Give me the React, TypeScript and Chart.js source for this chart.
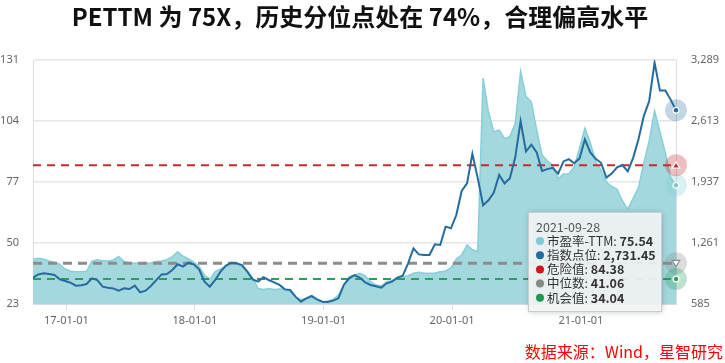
import React, { useEffect, useRef } from "react";
import { Chart, registerables } from "chart.js";
Chart.register(...registerables);

const titleText = "PETTM 为 75X，历史分位点处在 74%，合理偏高水平";
const sourceText = "数据来源：Wind，星智研究";
const startDate = "2016-09-28";
const endDate = "2021-09-28";
const xTickLabels = ["17-01-01", "18-01-01", "19-01-01", "20-01-01", "21-01-01"];
const leftTicks = [23, 50, 77, 104, 131];
const rightTicks = [585, 1261, 1937, 2613, 3289];
const seriesNames = ["市盈率-TTM", "指数点位", "危险值", "中位数", "机会值"];

const peValues = [
  42.8, 43.2, 42.8, 42.0, 41.5, 40.5, 38.5, 37.5, 37.3, 37.3,
  37.5, 42.0, 42.6, 42.2, 42.0, 42.5, 44.0, 41.8, 41.3, 41.0,
  41.2, 41.0, 41.2, 41.8, 42.0, 42.6, 44.0, 46.0, 44.2, 43.0,
  41.5, 39.6, 35.8, 33.9, 37.3, 38.5, 39.5, 41.0, 40.7, 39.5,
  37.3, 34.4, 29.9, 29.4, 29.9, 29.4, 29.6, 29.6, 28.4, 25.9,
  25.0, 25.4, 25.9, 25.0, 23.9, 24.3, 25.0, 26.9, 31.4, 35.1,
  35.8, 36.6, 35.5, 32.9, 31.4, 31.0, 32.9, 33.4, 34.6, 35.1,
  35.5, 36.6, 37.0, 36.6, 36.6, 36.6, 37.3, 37.6, 39.1, 42.9,
  44.7, 49.1, 47.0, 46.2, 123.0, 108.0, 99.3, 100.0, 96.3, 97.1,
  103.0, 126.0, 115.0, 112.5, 100.0, 89.0, 86.3, 84.5, 78.5, 80.5,
  80.5, 83.8, 92.0, 100.8, 94.5, 86.0, 82.3, 77.0, 75.0, 73.8,
  68.7, 65.0, 69.8, 74.5, 85.6, 95.2, 108.5, 99.3, 90.0, 79.0,
  75.54,
];

const indexValues = [
  877, 913, 925, 917, 906, 858, 840, 821, 788, 792,
  806, 869, 850, 777, 766, 758, 733, 758, 751, 788,
  714, 733, 784, 850, 913, 917, 962, 1025, 999, 1043,
  1025, 970, 832, 777, 851, 943, 1010, 1043, 1036, 1017,
  943, 858, 832, 881, 851, 825, 796, 747, 740, 666,
  611, 648, 674, 637, 611, 607, 622, 648, 796, 869,
  906, 875, 825, 796, 781, 766, 814, 832, 877, 899,
  1036, 1202, 1135, 1128, 1128, 1247, 1239, 1442, 1424, 1571,
  1837, 1922, 2250, 1980, 1680, 1735, 1820, 2015, 1922, 1980,
  2210, 2610, 2275, 2350, 2265, 2060, 2080, 2095, 2030, 2165,
  2190, 2145, 2199, 2410, 2265, 2195, 2150, 1985, 2030, 2100,
  2125, 2055, 2205, 2410, 2670, 2835, 3260, 2950, 2950, 2850,
  2731.45,
];

const dangerValue = 84.38;
const medianValue = 41.06;
const chanceValue = 34.04;

const colors = {
  pe: "#86cfd8",
  peFill: "#a3d8df",
  index: "#256c9e",
  danger: "#c62b2f",
  median: "#8c8c8c",
  chance: "#2a9f5c",
};

const CJK = '"Noto Sans CJK SC", "Noto Sans", sans-serif';

export default function App() {
  const ref = useRef<HTMLCanvasElement | null>(null);

  useEffect(() => {
    document.body.style.margin = "0";
    const t0 = Date.parse(startDate);
    const t1 = Date.parse(endDate);
    const n = peValues.length;
    const xs = peValues.map((_, i) => t0 + ((t1 - t0) * i) / (n - 1));
    const tickValues = xTickLabels.map((l) => Date.parse("20" + l));
    const lastPe = peValues[n - 1];
    const lastIdx = indexValues[indexValues.length - 1];

    const textPlugin = {
      id: "texts",
      afterDraw(chart: any) {
        const ctx = chart.ctx;
        ctx.save();
        ctx.fillStyle = "#111";
        ctx.font = `bold 24px ${CJK}`;
        ctx.textAlign = "center";
        ctx.textBaseline = "middle";
        ctx.fillText(titleText, 360, 17);
        ctx.fillStyle = "#ff0000";
        ctx.font = `16px ${CJK}`;
        ctx.textAlign = "right";
        ctx.fillText(sourceText, 723, 352);
        ctx.restore();
      },
    };

    const markerPlugin = {
      id: "markers",
      afterDatasetsDraw(chart: any) {
        const ctx = chart.ctx;
        const px = chart.scales.x.getPixelForValue(t1);
        const ly = chart.scales.y;
        const ry = chart.scales.y1;
        const halo = (y: number, c: string) => {
          ctx.beginPath();
          ctx.arc(px, y, 11, 0, Math.PI * 2);
          ctx.fillStyle = c;
          ctx.fill();
        };
        const dot = (y: number, c: string) => {
          ctx.beginPath();
          ctx.arc(px, y, 3.5, 0, Math.PI * 2);
          ctx.fillStyle = "#fff";
          ctx.fill();
          ctx.beginPath();
          ctx.arc(px, y, 2.2, 0, Math.PI * 2);
          ctx.fillStyle = c;
          ctx.fill();
        };
        const tri = (y: number, c: string, down: boolean, fillC: string) => {
          const s = down ? -1 : 1;
          ctx.beginPath();
          ctx.moveTo(px, y - 3.5 * s);
          ctx.lineTo(px + 3.8, y + 2.8 * s);
          ctx.lineTo(px - 3.8, y + 2.8 * s);
          ctx.closePath();
          ctx.fillStyle = fillC;
          ctx.fill();
          ctx.lineWidth = 1.2;
          ctx.strokeStyle = c;
          ctx.stroke();
        };
        ctx.save();
        let y = ry.getPixelForValue(lastIdx);
        halo(y, "rgba(37,108,158,0.28)");
        dot(y, colors.index);
        y = ly.getPixelForValue(lastPe);
        halo(y, "rgba(134,207,216,0.3)");
        dot(y, "#7cc8d2");
        y = ly.getPixelForValue(dangerValue);
        halo(y, "rgba(198,43,47,0.3)");
        tri(y, "#fff", false, colors.danger);
        y = ly.getPixelForValue(medianValue);
        halo(y, "rgba(140,140,140,0.3)");
        tri(y, colors.median, true, "#fff");
        y = ly.getPixelForValue(chanceValue);
        halo(y, "rgba(42,159,92,0.3)");
        dot(y, colors.chance);
        ctx.restore();
      },
    };

    const tooltipPlugin = {
      id: "staticTip",
      afterDraw(chart: any) {
        const ctx = chart.ctx;
        const area = chart.chartArea;
        const bx = area.right - 148;
        const by = 212;
        const bw = 133;
        const bh = 99;
        ctx.save();
        ctx.shadowColor = "rgba(0,0,0,0.25)";
        ctx.shadowBlur = 6;
        ctx.shadowOffsetX = 1;
        ctx.shadowOffsetY = 1;
        ctx.fillStyle = "rgba(246,248,248,0.9)";
        ctx.fillRect(bx, by, bw, bh);
        ctx.shadowColor = "transparent";
        ctx.strokeStyle = "#c8cccc";
        ctx.lineWidth = 1;
        ctx.strokeRect(bx + 0.5, by + 0.5, bw, bh);
        ctx.textBaseline = "middle";
        ctx.textAlign = "left";
        ctx.font = `12.5px ${CJK}`;
        ctx.fillStyle = "#555";
        ctx.fillText(endDate, bx + 8, by + 15);
        const rows = [
          [seriesNames[0], lastPe.toFixed(2), "#7fcbd6"],
          [seriesNames[1], lastIdx.toLocaleString("en-US", { minimumFractionDigits: 2, maximumFractionDigits: 2 }), colors.index],
          [seriesNames[2], dangerValue.toFixed(2), "#d0161b"],
          [seriesNames[3], medianValue.toFixed(2), "#888"],
          [seriesNames[4], chanceValue.toFixed(2), "#1f9a55"],
        ];
        rows.forEach((r, k) => {
          const ry = by + 29 + k * 14.2;
          ctx.beginPath();
          ctx.arc(bx + 12, ry, 4, 0, Math.PI * 2);
          ctx.fillStyle = r[2];
          ctx.fill();
          ctx.fillStyle = "#333";
          ctx.font = `12.5px ${CJK}`;
          const lab = r[0] + ": ";
          ctx.fillText(lab, bx + 19, ry);
          const w = ctx.measureText(lab).width;
          ctx.font = `bold 12.5px ${CJK}`;
          ctx.fillText(r[1], bx + 19 + w, ry);
        });
        ctx.restore();
      },
    };

    const line = (v: number) => [
      { x: t0, y: v },
      { x: t1, y: v },
    ];

    const chart = new Chart(ref.current as HTMLCanvasElement, {
      type: "line",
      data: {
        datasets: [
          {
            label: seriesNames[1],
            data: indexValues.map((v, i) => ({ x: xs[i], y: v })),
            yAxisID: "y1",
            borderColor: colors.index,
            borderWidth: 2,
            pointRadius: 0,
            fill: false,
            order: 0,
          },
          {
            label: seriesNames[2],
            data: line(dangerValue),
            yAxisID: "y",
            borderColor: colors.danger,
            borderWidth: 2,
            borderDash: [8, 6],
            pointRadius: 0,
            fill: false,
            order: 1,
          },
          {
            label: seriesNames[3],
            data: line(medianValue),
            yAxisID: "y",
            borderColor: colors.median,
            borderWidth: 3,
            borderDash: [9, 6],
            pointRadius: 0,
            fill: false,
            order: 2,
          },
          {
            label: seriesNames[4],
            data: line(chanceValue),
            yAxisID: "y",
            borderColor: colors.chance,
            borderWidth: 2,
            borderDash: [8, 6],
            pointRadius: 0,
            fill: false,
            order: 3,
          },
          {
            label: seriesNames[0],
            data: peValues.map((v, i) => ({ x: xs[i], y: v })),
            yAxisID: "y",
            borderColor: colors.pe,
            backgroundColor: colors.peFill,
            borderWidth: 1.5,
            pointRadius: 0,
            fill: "start",
            order: 5,
          },
        ],
      },
      options: {
        animation: false,
        responsive: false,
        maintainAspectRatio: false,
        layout: { padding: { top: 60, left: 0, right: 0, bottom: 0 } },
        plugins: {
          legend: { display: false },
          title: { display: false },
          tooltip: { enabled: false },
        },
        scales: {
          x: {
            type: "linear",
            min: t0,
            max: t1,
            afterBuildTicks: (s: any) => {
              s.ticks = tickValues.map((v) => ({ value: v }));
            },
            afterFit: (s: any) => {
              s.height = 59;
            },
            ticks: {
              autoSkip: false,
              maxRotation: 0,
              padding: 4,
              color: "#666",
              font: { size: 11, family: '"Noto Sans", sans-serif' },
              callback: (_v: any, i: number) => xTickLabels[i],
            },
            grid: { drawOnChartArea: false, drawTicks: true, tickLength: 6, color: "#d5dbe7" },
            border: { display: true, color: "#d5dbe7" },
          },
          y: {
            position: "left",
            min: leftTicks[0],
            max: leftTicks[leftTicks.length - 1],
            afterBuildTicks: (s: any) => {
              s.ticks = leftTicks.map((v) => ({ value: v }));
            },
            afterFit: (s: any) => {
              s.width = 33;
            },
            ticks: {
              padding: 14,
              color: "#666",
              font: { size: 11, family: '"Noto Sans", sans-serif' },
            },
            grid: { color: "#e6e6e6", drawTicks: false, lineWidth: 1.5 },
            border: { display: true, color: "#d9dee8" },
          },
          y1: {
            position: "right",
            min: rightTicks[0],
            max: rightTicks[rightTicks.length - 1],
            afterBuildTicks: (s: any) => {
              s.ticks = rightTicks.map((v) => ({ value: v }));
            },
            afterFit: (s: any) => {
              s.width = 49;
            },
            ticks: {
              padding: 15,
              color: "#666",
              font: { size: 11, family: '"Noto Sans", sans-serif' },
              callback: (v: any) => Number(v).toLocaleString("en-US"),
            },
            grid: { drawOnChartArea: false, drawTicks: false },
            border: { display: true, color: "#d9dee8" },
          },
        },
      },
      plugins: [markerPlugin, tooltipPlugin, textPlugin],
    } as any);
    return () => chart.destroy();
  }, []);

  return (
    <div style={{ position: "relative", width: 725, height: 363, background: "#fff" }}>
      <canvas ref={ref} width={725} height={363} style={{ display: "block", width: 725, height: 363 }} />
    </div>
  );
}
